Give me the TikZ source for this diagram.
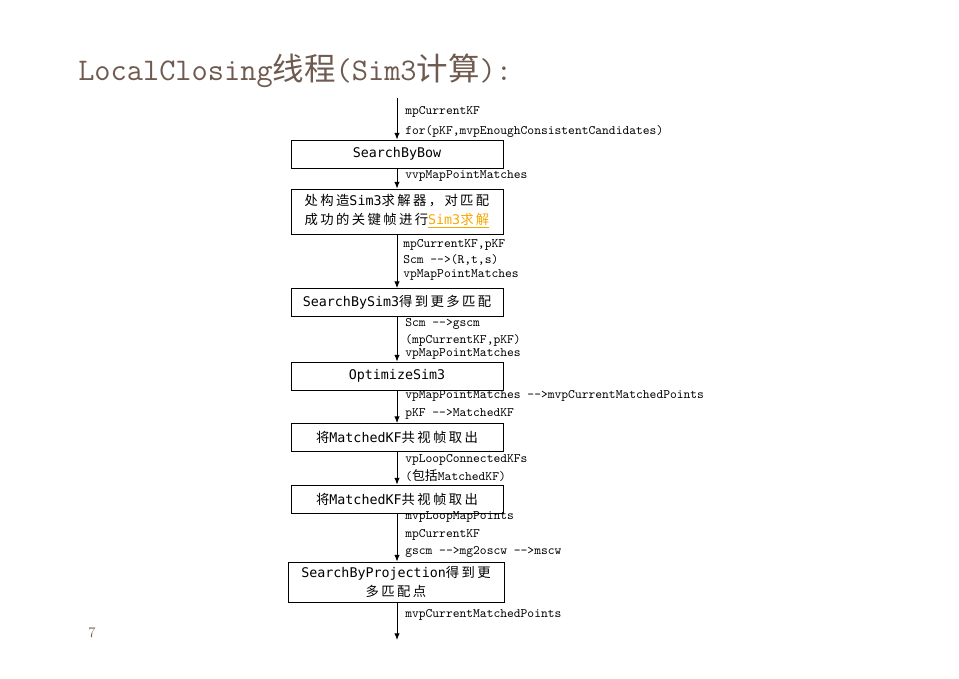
\documentclass[tikz,border=0pt]{standalone}
\usepackage{fontspec}
\setmonofont{Latin Modern Mono}[Ligatures=NoCommon]
\newfontfamily\cjk{Noto Sans CJK SC}
\newfontfamily\cjkbox{Noto Sans CJK SC}[LetterSpace=18]
\newfontfamily\boxfont{DejaVu Sans Mono}
\usetikzlibrary{arrows.meta}
\definecolor{titlebrown}{RGB}{110,90,78}
\definecolor{simorange}{RGB}{245,168,0}
\tikzset{
  box/.style={draw, line width=0.65pt, minimum width=159pt, minimum height=21pt,
    inner sep=2pt, font=\boxfont\fontsize{10}{14}\selectfont},
  lbl/.style={anchor=west, inner sep=0pt, font=\ttfamily\fontsize{9.7}{10}\selectfont},
  flow/.style={line width=0.65pt, -{Latex[length=5pt,width=4pt]}}
}
\begin{document}
\begin{tikzpicture}[x=0.75pt, y=-0.75pt]
  \useasboundingbox (0,0) rectangle (959,678);
  \node[anchor=west, inner sep=0pt, text=titlebrown, font=\ttfamily\fontsize{23.6}{26}\selectfont]
    (title) at (78,71) {LocalClosing{\cjk 线程}(Sim3{\cjk 计算}):};
  \node[text=titlebrown, font=\fontsize{11}{12}\selectfont] (page) at (92,633) {7};
  \coordinate (top) at (397,98);
  \coordinate (bot) at (397,640);
  \node[box] (bow) at (397,154) {SearchByBow};
  \node[box, minimum height=33.75pt, align=left] (solver) at (397,211.5)
    {{\cjkbox 处构造}Sim3{\cjkbox 求解器，对匹配}\\
     {\cjkbox 成功的关键帧进行}\textcolor{simorange}{\underline{Sim3{\cjkbox 求解}}}};
  \node[box] (sim3) at (397,302.5) {SearchBySim3{\cjkbox 得到更多匹配}};
  \node[box] (opt) at (397,376) {OptimizeSim3};
  \node[box] (cov1) at (397,437.5) {{\cjkbox 将}MatchedKF{\cjkbox 共视帧取出}};
  \node[box] (cov2) at (397,499) {{\cjkbox 将}MatchedKF{\cjkbox 共视帧取出}};
  \node[box, minimum width=162pt, minimum height=30pt, align=center] (proj) at (396,582)
    {SearchByProjection{\cjkbox 得到更}\\{\cjkbox 多匹配点}};
  \draw[flow] (top) -- (bow);
  \draw[flow] (bow) -- (solver);
  \draw[flow] (solver) -- (sim3);
  \draw[flow] (sim3) -- (opt);
  \draw[flow] (opt) -- (cov1);
  \draw[flow] (cov1) -- (cov2);
  \draw[flow] (cov2) -- (proj.north -| top);
  \draw[flow] (proj.south -| top) -- (bot);
  % edge labels
  \node[lbl] (l1) at (405,112) {mpCurrentKF};
  \node[lbl] (l2) at (405,131) {for({}pKF,mvpEnoughConsistentCandidates)};
  \node[lbl] (l3) at (405,176) {vvpMapPointMatches};
  \node[lbl] (l4) at (403,245) {mpCurrentKF,pKF};
  \node[lbl] (l5) at (403,260) {Scm -{}->(R,t,s)};
  \node[lbl] (l6) at (403,275) {vpMapPointMatches};
  \node[lbl] (l7) at (405,324) {Scm -{}->gscm};
  \node[lbl] (l8) at (405,340) {(mpCurrentKF,pKF)};
  \node[lbl] (l9) at (405,354) {vpMapPointMatches};
  \node[lbl] (l10) at (405,396) {vpMapPointMatches -{}->mvpCurrentMatchedPoints};
  \node[lbl] (l11) at (405,414) {pKF -{}->MatchedKF};
  \node[lbl] (l12) at (405,460) {vpLoopConnectedKFs};
  \node[lbl] (l13) at (405,476) {({\cjk 包括}MatchedKF)};
  \node[lbl] (l14) at (405,517) {mvpLoopMapPoints};
  \node[lbl] (l15) at (405,535) {mpCurrentKF};
  \node[lbl] (l16) at (405,552) {gscm -{}->mg2oscw -{}->mscw};
  \node[lbl] (l17) at (405,615) {mvpCurrentMatchedPoints};
\end{tikzpicture}
\end{document}
